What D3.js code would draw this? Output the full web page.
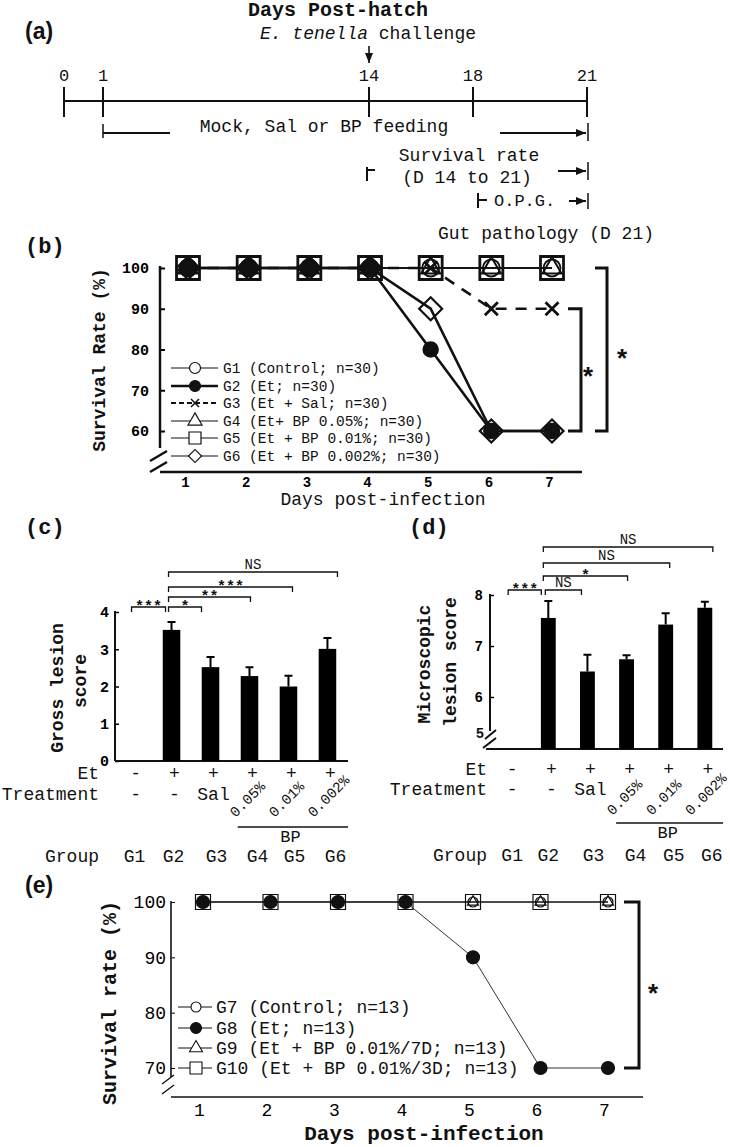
<!DOCTYPE html>
<html>
<head>
<meta charset="utf-8">
<script src="https://cdn.jsdelivr.net/npm/d3@7"></script>
<style>
  body { margin: 0; background: #fff; }
  svg { display: block; }
</style>
</head>
<body>
<svg id="fig" width="730" height="1147"></svg>
<script>
// ---------- data ----------
// (a) timeline, days post-hatch
const timelineDays = [0, 1, 14, 18, 21];

// (b) survival, days post-infection
const daysPI = [1, 2, 3, 4, 5, 6, 7];
const g1Surv = [100, 100, 100, 100, 100, 100, 100];
const g2Surv = [100, 100, 100, 100, 80, 60, 60];
const g3Surv = [100, 100, 100, 100, 100, 90, 90];
const g4Surv = [100, 100, 100, 100, 100, 100, 100];
const g5Surv = [100, 100, 100, 100, 100, 100, 100];
const g6Surv = [100, 100, 100, 100, 90, 60, 60];
const survTicksB = [60, 70, 80, 90, 100];
const legendB = ["G1 (Control; n=30)", "G2 (Et; n=30)", "G3 (Et + Sal; n=30)",
  "G4 (Et+ BP 0.05%; n=30)", "G5 (Et + BP 0.01%; n=30)", "G6 (Et + BP 0.002%; n=30)"];

// (c) and (d) lesion scores
const groups = ["G1", "G2", "G3", "G4", "G5", "G6"];
const etRow = ["-", "+", "+", "+", "+", "+"];
const treatRow = ["-", "-", "Sal", "0.05%", "0.01%", "0.002%"];
const grossLesion = [0, 3.52, 2.52, 2.28, 2.0, 3.01];
const grossErr = [0, 0.21, 0.27, 0.24, 0.29, 0.29];
const grossTicks = [0, 1, 2, 3, 4];
const sigCPairs = [["G1", "G2"], ["G2", "G3"], ["G2", "G4"], ["G2", "G5"], ["G2", "G6"]];
const sigCLabels = ["***", "*", "**", "***", "NS"];
const microLesion = [null, 7.55, 6.5, 6.74, 7.42, 7.75];
const microErr = [null, 0.33, 0.33, 0.08, 0.22, 0.12];
const microTicks = [5, 6, 7, 8];
const sigDPairs = [["G1", "G2"], ["G2", "G3"], ["G2", "G4"], ["G2", "G5"], ["G2", "G6"]];
const sigDLabels = ["***", "NS", "*", "NS", "NS"];

// (e) survival, second trial
const g7Surv = [100, 100, 100, 100, 100, 100, 100];
const g8Surv = [100, 100, 100, 100, 90, 70, 70];
const g9Surv = [100, 100, 100, 100, 100, 100, 100];
const g10Surv = [100, 100, 100, 100, 100, 100, 100];
const survTicksE = [70, 80, 90, 100];
const legendE = ["G7 (Control; n=13)", "G8 (Et; n=13)", "G9 (Et + BP 0.01%/7D; n=13)", "G10 (Et + BP 0.01%/3D; n=13)"];

// ---------- helpers ----------
const mono = '"Liberation Mono","Courier New",monospace';
const sans = '"Liberation Sans",Arial,sans-serif';
const ink = "#111";
const svg = d3.select("#fig");

svg.append("defs").append("marker")
  .attr("id", "arr").attr("viewBox", "0 0 10 8")
  .attr("refX", 10).attr("refY", 4)
  .attr("markerWidth", 10).attr("markerHeight", 8)
  .attr("markerUnits", "userSpaceOnUse").attr("orient", "auto")
  .append("path").attr("d", "M0,0L10,4L0,8Z").attr("fill", ink);

function txt(g, x, y, s, size, opts = {}) {
  return g.append("text").attr("x", x).attr("y", y)
    .attr("font-family", opts.family || mono)
    .attr("font-size", size)
    .attr("font-weight", opts.bold ? "bold" : "normal")
    .attr("font-style", opts.italic ? "italic" : "normal")
    .attr("text-anchor", opts.anchor || "start")
    .attr("fill", ink).text(s);
}
function seg(g, x1, y1, x2, y2, w = 1.5, extra) {
  const l = g.append("line").attr("x1", x1).attr("y1", y1).attr("x2", x2).attr("y2", y2)
    .attr("stroke", ink).attr("stroke-width", w);
  if (extra) l.attr("marker-end", extra);
  return l;
}
function symPath(shape, s) {
  if (shape === "times") {
    const r = s / 2;
    return `M${-r},${-r}L${r},${r}M${-r},${r}L${r},${-r}`;
  }
  if (shape === "circle") return d3.symbol(d3.symbolCircle, Math.PI * (s / 2) ** 2)();
  if (shape === "triangle") return d3.symbol(d3.symbolTriangle, Math.sqrt(3) / 4 * s * s)();
  if (shape === "square" || shape === "diamond") return d3.symbol(d3.symbolSquare, s * s)();
}
function drawMarkers(g, data, x, y, shape, s, filled, w) {
  g.selectAll(null).data(data).join("path")
    .attr("d", symPath(shape, shape === "diamond" ? s / Math.SQRT2 : s))
    .attr("transform", d => `translate(${x(d[0])},${y(d[1])})` + (shape === "diamond" ? " rotate(45)" : ""))
    .attr("fill", filled ? ink : "none")
    .attr("stroke", ink).attr("stroke-width", w);
}
const fmtInt = d3.format("d");

// ---------- (a) timeline ----------
const gA = svg.append("g");
const xA = d3.scaleLinear().domain(timelineDays).range([64, 103, 369, 473, 587]);
txt(gA, 338, 16, "Days Post-hatch", 20, { bold: true, anchor: "middle" });
txt(gA, 25, 39, "(a)", 23, { family: sans, bold: true });
const ch = txt(gA, 368, 39, "", 18, { anchor: "middle" });
ch.append("tspan").attr("font-style", "italic").text("E. tenella");
ch.append("tspan").text(" challenge");
seg(gA, xA(14), 46, xA(14), 63, 1.6, "url(#arr)");
seg(gA, xA(0), 101, xA(21), 101, 2);
gA.selectAll(null).data(timelineDays).join("line")
  .attr("x1", d => xA(d)).attr("x2", d => xA(d)).attr("y1", 87).attr("y2", 117)
  .attr("stroke", ink).attr("stroke-width", 2);
gA.selectAll(null).data(timelineDays).join("text")
  .attr("x", d => xA(d)).attr("y", 81).attr("text-anchor", "middle")
  .attr("font-family", mono).attr("font-size", 17).attr("fill", ink).text(d => d);
// feeding period
seg(gA, xA(1), 124, xA(1), 138, 1.5);
seg(gA, xA(1), 133, 170, 133, 2);
txt(gA, 324, 132, "Mock, Sal or BP feeding", 18, { anchor: "middle" });
seg(gA, 500, 133, xA(21) - 1, 133, 2, "url(#arr)");
seg(gA, xA(21) + 1, 123, xA(21) + 1, 141, 1.5);
// survival rate window
txt(gA, 469, 161, "Survival rate", 18, { anchor: "middle" });
txt(gA, 467, 183, "(D 14 to 21)", 18, { anchor: "middle" });
seg(gA, xA(14) - 2, 167, xA(14) - 2, 181, 2);
seg(gA, xA(14) - 2, 170, xA(14) + 6, 170, 2);
seg(gA, 558, 171, xA(21) - 1, 171, 2, "url(#arr)");
seg(gA, xA(21) + 1, 162, xA(21) + 1, 180, 1.5);
// O.P.G.
seg(gA, 478, 193, 478, 208, 2);
seg(gA, 478, 200, 487, 200, 2);
txt(gA, 494, 206, "O.P.G.", 17);
seg(gA, 569, 201, xA(21) - 1, 201, 2, "url(#arr)");
seg(gA, xA(21) + 1, 193, xA(21) + 1, 209, 1.5);
txt(gA, 546, 239, "Gut pathology (D 21)", 18, { anchor: "middle" });

// ---------- (b) survival ----------
const gB = svg.append("g");
txt(gB, 25, 253, "(b)", 22, { bold: true });
const xB = d3.scaleLinear().domain([1, 7]).range([188, 552]);
const yB = d3.scaleLinear().domain([60, 100]).range([431, 268]);
gB.append("g").attr("transform", "translate(160,0)")
  .call(d3.axisLeft(yB).tickValues(survTicksB).tickSize(-5).tickPadding(11).tickFormat(fmtInt))
  .call(g => g.select(".domain").remove())
  .attr("font-family", mono).attr("font-size", 15).attr("font-weight", "bold")
  .call(g => g.selectAll("line").attr("stroke-width", 2));
seg(gB, 160, 266, 160, 448, 2.5);
seg(gB, 150, 461, 167, 451, 2.5);
seg(gB, 150, 472, 167, 462, 2.5);
seg(gB, 160, 472, 582, 472, 2.5);
gB.append("g").attr("transform", "translate(-3,472)")
  .call(d3.axisBottom(xB).tickValues(daysPI).tickSize(0).tickPadding(5).tickFormat(fmtInt))
  .call(g => g.select(".domain").remove())
  .attr("font-family", mono).attr("font-size", 14).attr("font-weight", "bold");
txt(gB, 383, 505, "Days post-infection", 18, { anchor: "middle" });
txt(gB, 0, 0, "Survival Rate (%)", 18, { bold: true, anchor: "middle" })
  .attr("transform", "translate(105,360) rotate(-90)");

const seriesB = [
  { v: g5Surv, shape: "square", w: 1.4, s: 23, mw: 2.8 },
  { v: g6Surv, shape: "diamond", w: 2.6, s: 23, mw: 2.2 },
  { v: g4Surv, shape: "triangle", w: 1.4, s: 19, mw: 2 },
  { v: g3Surv, shape: "times", w: 2.6, s: 13, mw: 2.8, dash: "11,9" },
  { v: g1Surv, shape: "circle", w: 1.2, s: 17, mw: 1.8 },
  { v: g2Surv, shape: "circle", w: 2.6, s: 15, mw: 1.5, filled: true }
];
const lineB = d3.line().x(d => xB(d[0])).y(d => yB(d[1]));
seriesB.forEach(s => {
  gB.append("path").datum(daysPI.map((d, i) => [d, s.v[i]]))
    .attr("d", lineB).attr("fill", "none").attr("stroke", ink)
    .attr("stroke-width", s.w).attr("stroke-dasharray", s.dash || null);
});
seriesB.forEach(s => {
  drawMarkers(gB, daysPI.map((d, i) => [d, s.v[i]]), xB, yB, s.shape, s.s, s.filled, s.mw);
});
// significance brackets
const brB = [[568, yB(90), 581], [595, yB(100), 607]];
brB.forEach(b => {
  gB.append("path").attr("d", `M${b[0]},${b[1]}H${b[2]}V${yB(60)}H${b[0]}`)
    .attr("fill", "none").attr("stroke", ink).attr("stroke-width", 3);
});
txt(gB, 588, 386, "*", 26, { bold: true, anchor: "middle" });
txt(gB, 622, 368, "*", 26, { bold: true, anchor: "middle" });
// legend
const legB = [
  { shape: "circle", w: 1, s: 11 }, { shape: "circle", w: 2.4, s: 11, filled: true },
  { shape: "times", w: 1.8, s: 8, dash: "5,3" }, { shape: "triangle", w: 1.2, s: 14 },
  { shape: "square", w: 1.2, s: 12 }, { shape: "diamond", w: 1.2, s: 13 }
];
const legYB = [368, 386, 403, 421, 438, 456];
legB.forEach((l, i) => {
  const y = legYB[i];
  seg(gB, 171, y, 218, y, l.w).attr("stroke-dasharray", l.dash || null);
  gB.append("path").attr("d", symPath(l.shape, l.shape === "diamond" ? l.s / Math.SQRT2 : l.s))
    .attr("transform", `translate(195,${y})` + (l.shape === "diamond" ? " rotate(45)" : ""))
    .attr("fill", l.filled ? ink : (l.shape === "times" ? "none" : "#fff"))
    .attr("stroke", ink).attr("stroke-width", l.shape === "times" ? 1.5 : 1.2);
  txt(gB, 223, y + 5, legendB[i], 14.5);
});

// ---------- bar panels (c), (d) ----------
function barPanel(cfg) {
  const g = svg.append("g");
  const x = d3.scaleBand().domain(groups).range(cfg.xr).paddingInner(cfg.pi).paddingOuter(cfg.po);
  const y = d3.scaleLinear().domain(cfg.yd).range(cfg.yr);
  const cx = d => x(d) + x.bandwidth() / 2;
  txt(g, cfg.tag[0], cfg.tag[1], cfg.tag[2], 22, { bold: true });
  // axes
  g.append("g").attr("transform", `translate(${cfg.axX},0)`)
    .call(d3.axisLeft(y).tickValues(cfg.ticks).tickSize(-4).tickPadding(cfg.tp).tickFormat(fmtInt))
    .call(a => a.select(".domain").remove())
    .attr("font-family", mono).attr("font-size", cfg.tfs).attr("font-weight", "bold")
    .call(a => a.selectAll("line").attr("stroke-width", 1.5));
  seg(g, cfg.axX, cfg.yr[1] - 1, cfg.axX, cfg.axBottom, 2);
  seg(g, cfg.baseX[0], cfg.baseY, cfg.baseX[1], cfg.baseY, 2.2);
  // bars
  const rows = groups.map((d, i) => ({ g: d, v: cfg.vals[i], e: cfg.errs[i] }))
    .filter(d => d.v != null && d.v > cfg.yd[0]);
  g.selectAll(null).data(rows).join("rect")
    .attr("x", d => x(d.g)).attr("width", x.bandwidth())
    .attr("y", d => y(d.v)).attr("height", d => cfg.baseY - y(d.v)).attr("fill", "#000");
  g.selectAll(null).data(rows).join("path")
    .attr("d", d => `M${cx(d.g)},${y(d.v)}V${y(d.v + d.e)}M${cx(d.g) - 4},${y(d.v + d.e)}H${cx(d.g) + 4}`)
    .attr("fill", "none").attr("stroke", "#000").attr("stroke-width", 2);
  // significance
  cfg.pairs.forEach((p, i) => {
    const x1 = cx(p[0]) + cfg.sigOff[i][0], x2 = cx(p[1]) + cfg.sigOff[i][1], by = cfg.sigY[i];
    g.append("path").attr("d", `M${x1},${by + 5}V${by}H${x2}V${by + 5}`)
      .attr("fill", "none").attr("stroke", ink).attr("stroke-width", 1.3);
    const lab = cfg.labels[i];
    txt(g, (x1 + x2) / 2, lab === "NS" ? by - 3 : by + 4, lab, lab === "NS" ? 14 : 15,
      { anchor: "middle", bold: lab !== "NS" });
  });
  // rows under the chart
  txt(g, cfg.rowX, cfg.rowY[0], "Et", 18, { anchor: "end" });
  txt(g, cfg.rowX, cfg.rowY[1], "Treatment", 18, { anchor: "end" });
  txt(g, cfg.rowX, cfg.rowY[4], "Group", 18, { anchor: "end" });
  g.selectAll(null).data(groups).join("text")
    .attr("x", d => cx(d) + 3).attr("y", cfg.rowY[0]).attr("text-anchor", "middle")
    .attr("font-family", mono).attr("font-size", 18).attr("fill", ink)
    .text((d, i) => etRow[i]);
  groups.forEach((d, i) => {
    const t = treatRow[i];
    if (t.endsWith("%")) {
      txt(g, 0, 0, t, 14.5).attr("transform", `translate(${cx(d) - 14},${cfg.rowY[2]}) rotate(-45)`);
    } else {
      txt(g, cx(d) + 3, cfg.rowY[1], t, 18, { anchor: "middle" });
    }
  });
  seg(g, x("G4") - 3, cfg.rowY[3], cfg.baseX[1], cfg.rowY[3], 1.3);
  txt(g, cx("G5") + 2, cfg.rowY[3] + 15, "BP", 17, { anchor: "middle" });
  g.selectAll(null).data(groups).join("text")
    .attr("x", (d, i) => cx(d) + cfg.gOff[i]).attr("y", cfg.rowY[4]).attr("text-anchor", "middle")
    .attr("font-family", mono).attr("font-size", 18).attr("fill", ink).text(d => d);
  return { g, x, y };
}

const pc = barPanel({
  tag: [25, 534, "(c)"], xr: [115, 345], pi: 0.55, po: 0.225,
  yd: [0, 4], yr: [761, 612], ticks: grossTicks, tp: 6, tfs: 15,
  axX: 115, axBottom: 761, baseX: [115, 348], baseY: 761,
  vals: grossLesion, errs: grossErr,
  pairs: sigCPairs, labels: sigCLabels,
  sigY: [607, 607, 597, 587, 572],
  sigOff: [[-1, -6], [-3, -9], [-3, 1], [-3, 4], [-3, 10]],
  rowX: 99, rowY: [779, 800, 818, 827, 862], gOff: [2, 2, 6, 8, 6, 8]
});
txt(pc.g, 0, 0, "Gross lesion", 18, { bold: true, anchor: "middle" })
  .attr("transform", "translate(63,688) rotate(-90)");
txt(pc.g, 0, 0, "score", 18, { bold: true, anchor: "middle" })
  .attr("transform", "translate(86,681) rotate(-90)");

const pd = barPanel({
  tag: [409, 534, "(d)"], xr: [490, 724], pi: 0.62, po: 0.3,
  yd: [5, 8], yr: [748, 595], ticks: microTicks.slice(1), tp: 7, tfs: 14,
  axX: 490, axBottom: 731, baseX: [486, 723], baseY: 749,
  vals: microLesion, errs: microErr,
  pairs: sigDPairs, labels: sigDLabels,
  sigY: [590, 590, 576, 563, 547],
  sigOff: [[-1, -7], [-3, -6], [-5, 1], [-5, 4], [-5, 8]],
  rowX: 487, rowY: [775, 795, 816, 823, 861], gOff: [3, 0, 6, 9, 8, 7]
});
txt(pd.g, 480, pd.y(5) - 10, String(microTicks[0]), 14, { bold: true, anchor: "middle" });
seg(pd.g, 485, 739, 496, 730, 2);
seg(pd.g, 483, 748, 496, 738, 2);
txt(pd.g, 0, 0, "Microscopic", 18, { bold: true, anchor: "middle" })
  .attr("transform", "translate(430,664) rotate(-90)");
txt(pd.g, 0, 0, "lesion score", 18, { bold: true, anchor: "middle" })
  .attr("transform", "translate(456,662) rotate(-90)");

// ---------- (e) survival, second trial ----------
const gE = svg.append("g");
txt(gE, 25, 893, "(e)", 23, { family: sans, bold: true });
const xE = d3.scaleLinear().domain([1, 7]).range([203, 608]);
const yE = d3.scaleLinear().domain([70, 100]).range([1068, 902]);
gE.append("g").attr("transform", "translate(171,0)")
  .call(d3.axisLeft(yE).tickValues(survTicksE).tickSize(-4).tickPadding(5).tickFormat(fmtInt))
  .call(g => g.select(".domain").remove())
  .attr("font-family", mono).attr("font-size", 18);
seg(gE, 171, 901, 171, 1077, 1.6);
seg(gE, 162, 1084, 174, 1075, 1.4);
seg(gE, 162, 1094, 174, 1085, 1.4);
seg(gE, 171, 1097, 643, 1097, 1.6);
gE.append("g").attr("transform", "translate(-4,1097)")
  .call(d3.axisBottom(xE).tickValues(daysPI).tickSize(0).tickPadding(6).tickFormat(fmtInt))
  .call(g => g.select(".domain").remove())
  .attr("font-family", mono).attr("font-size", 18);
txt(gE, 424, 1140, "Days post-infection", 21, { bold: true, anchor: "middle" });
txt(gE, 0, 0, "Survival rate (%)", 20, { bold: true, anchor: "middle" })
  .attr("transform", "translate(116,1003) rotate(-90)");

const seriesE = [
  { v: g10Surv, shape: "square", s: 15 },
  { v: g9Surv, shape: "triangle", s: 11 },
  { v: g7Surv, shape: "circle", s: 10 },
  { v: g8Surv, shape: "circle", s: 13, filled: true }
];
const lineE = d3.line().x(d => xE(d[0])).y(d => yE(d[1]));
seriesE.forEach(s => {
  gE.append("path").datum(daysPI.map((d, i) => [d, s.v[i]]))
    .attr("d", lineE).attr("fill", "none").attr("stroke", "#333").attr("stroke-width", 1);
});
seriesE.forEach(s => {
  drawMarkers(gE, daysPI.map((d, i) => [d, s.v[i]]), xE, yE, s.shape, s.s, s.filled, 1.2);
});
gE.append("path").attr("d", `M624,${yE(100)}H639V${yE(70)}H624`)
  .attr("fill", "none").attr("stroke", ink).attr("stroke-width", 3);
txt(gE, 653, 1003, "*", 26, { bold: true, anchor: "middle" });
const legE = [{ shape: "circle", s: 10 }, { shape: "circle", s: 11, filled: true },
  { shape: "triangle", s: 13 }, { shape: "square", s: 12 }];
const legYE = [1007, 1028, 1048, 1068];
legE.forEach((l, i) => {
  const y = legYE[i];
  seg(gE, 178, y, 212, y, 1);
  gE.append("path").attr("d", symPath(l.shape, l.s))
    .attr("transform", `translate(196,${y})`)
    .attr("fill", l.filled ? ink : "#fff").attr("stroke", ink).attr("stroke-width", 1.1);
  txt(gE, 216, y + 6, legendE[i], 18);
});
</script>
</body>
</html>
